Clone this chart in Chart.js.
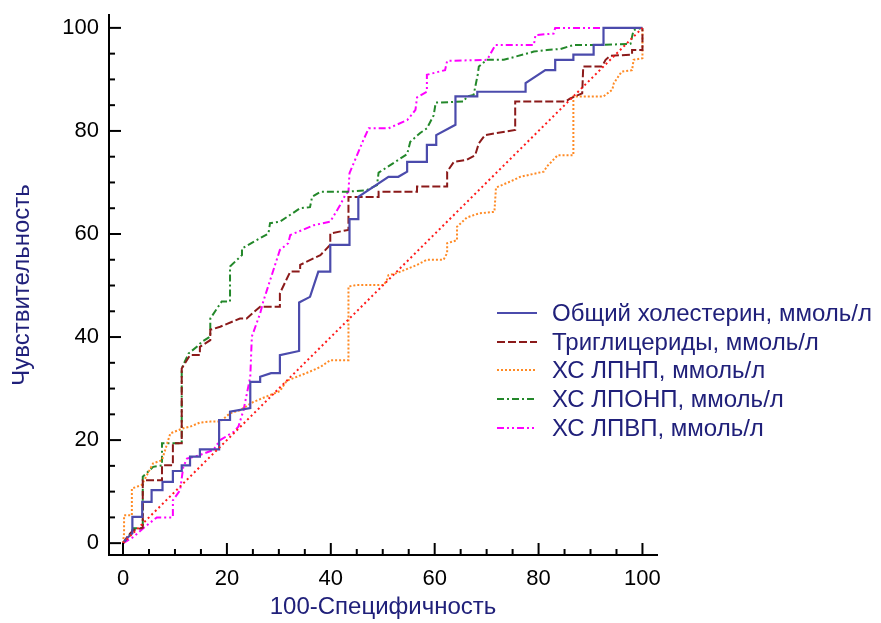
<!DOCTYPE html>
<html lang="ru">
<head>
<meta charset="utf-8">
<title>ROC</title>
<script src="https://cdn.jsdelivr.net/npm/chart.js@4.4.1/dist/chart.umd.min.js"></script>
<style>
  body { margin: 0; background: #fff; }
  #wrap { position: relative; width: 881px; height: 623px; }
  #legend {
    position: absolute; left: 497px; top: 299px;
    font-family: Arial, "Liberation Sans", sans-serif; font-size: 24px; color: #20207a;
  }
  .row { display: flex; align-items: center; height: 28.6px; white-space: nowrap; }
  .row svg { margin-right: 15px; flex: none; }
</style>
</head>
<body>
<div id="wrap">
  <canvas id="roc" width="881" height="623"></canvas>
  <div id="legend"></div>
</div>
<script>
// Подписи
const xTitle = '100-Специфичность';
const yTitle = 'Чувствительность';
const tickValues = [0, 20, 40, 60, 80, 100];
const seriesNames = [
  'Общий холестерин, ммоль/л',
  'Триглицериды, ммоль/л',
  'ХС ЛПНП, ммоль/л',
  'ХС ЛПОНП, ммоль/л',
  'ХС ЛПВП, ммоль/л'
];

// Точки ROC-кривых [100-специфичность, чувствительность]
const cholesterol = [[0,0],[0.8,1],[1.8,1.9],[1.8,5.1],[3.7,5.1],[3.7,8],[5.5,8],[5.5,10.3],[7.6,10.3],[7.6,11.9],
  [9.6,11.9],[9.6,14],[11.3,14],[11.3,15.1],[12.9,15.1],[12.9,16.8],[14.8,16.8],[14.8,18.2],[18.5,18.2],[18.5,23.9],
  [20.6,23.9],[20.6,25.5],[24.5,26.2],[24.5,31.3],[26.4,31.3],[26.4,32.3],[28.5,33],[30.2,33],[30.2,36.5],[33.9,37.3],
  [33.9,46.7],[36,47.8],[37.6,52.7],[39.9,52.7],[39.9,57.9],[43.6,57.9],[43.6,62.9],[45.3,62.9],[45.3,67.2],[51.1,71.1],
  [53,71.1],[54.7,72.1],[54.7,74],[58.5,74],[58.5,77.3],[60.3,77.3],[60.3,79.2],[64,81.2],[64,86.7],[68.2,86.7],
  [68.2,87.6],[77.5,87.6],[77.5,89.3],[81.3,91.8],[83.2,91.8],[83.2,93.8],[86.7,93.8],[86.7,94.8],[90.6,94.8],[90.6,96.7],
  [92.5,96.7],[92.5,100],[100,100]];
const triglycerides = [[0,0],[1,1.5],[2,2.5],[3.8,3],[3.8,12.2],[7.5,12.2],[7.5,15.1],[9.6,15.1],[9.6,19.4],[11.3,19.4],
  [11.3,33.9],[12.9,36.5],[14.8,36.5],[14.8,38.1],[16.8,39.4],[16.8,41.4],[18.7,42],[22.5,43.6],[23.8,43.6],[26.4,45.9],
  [30.2,45.9],[30.2,48.5],[32.2,52.7],[34.1,52.7],[34.1,54],[38,55.9],[39.9,57.9],[39.9,60.1],[43.4,60.8],[43.4,67.2],
  [49.2,67.2],[49.2,68.2],[56.6,68.2],[56.6,69.2],[62.4,69.2],[62.4,72.1],[63.7,74],[66.2,74.4],[67.8,75.3],[68.5,77.6],
  [69.7,79.2],[75.5,80.2],[75.5,85.7],[85.2,85.7],[86.1,86.3],[88.4,87.3],[88.6,92.5],[92.2,92.5],[92.9,93.8],[93.8,94.6],
  [98,94.8],[98,95.7],[100,95.7],[100,100]];
const ldl = [[0,0],[0.2,1.9],[0.2,5.4],[1.7,5.4],[1.7,10.6],[3.6,11.3],[5.8,15.5],[7.5,16.1],[9.1,21.3],[11.6,22.3],
  [12.9,22.6],[14.8,23.4],[16.8,23.6],[18.7,23.6],[20.6,25.2],[22.5,25.8],[25.1,27.4],[27.7,28.5],[30.2,29.5],[31.5,31.5],
  [33.5,32.3],[36,33.3],[38,34.2],[39.9,35.5],[43.4,35.5],[43.4,49.8],[45,50.1],[50.2,50.1],[50.8,51.1],[51.1,52],
  [52.7,52.4],[56.6,54],[58.5,55],[61.7,55],[62.4,56.3],[62.4,58.2],[64.3,58.8],[64.3,61.4],[66.2,63.2],[68.5,64],
  [71.5,64.3],[71.8,69],[74.6,70.2],[76.5,71.1],[81,72.1],[81.6,73.1],[83.7,75.3],[86.7,75.3],[86.7,86.7],[92.5,86.7],
  [94.2,88],[94.5,89.3],[96,91.5],[98,91.8],[98.3,93.8],[100,94.1],[100,100]];
const vldl = [[0,0],[1,1.2],[2,2.9],[3.8,2.9],[3.8,12.9],[5.8,14.8],[7.5,15.1],[7.5,19.4],[11.3,19.4],[11.3,33.9],
  [12.6,36.8],[14.2,38.1],[15.2,39.1],[16.8,40.1],[16.8,43.6],[19,46.9],[20.6,46.9],[20.6,53.7],[22.9,55.9],[22.9,57.2],
  [28,60.1],[28.3,62.1],[30.2,62.4],[34.1,65],[36,65.2],[36.4,67.2],[38,68.2],[43.1,68.2],[46.9,68.5],[48.9,69.5],
  [49.2,71.9],[54.7,75.5],[55.3,77.9],[57.2,79.6],[58.5,80.5],[59.8,83],[60.2,85.5],[65.6,85.7],[66.2,86.7],[67.5,87],
  [68.3,91],[68.5,92.5],[70,93.8],[73.3,93.8],[79.1,95.4],[81.6,95.7],[84.2,95.9],[86.8,96.7],[91.9,96.7],[97.7,96.9],
  [98,98.3],[98.3,99.6],[100,100]];
const hdl = [[0,0],[2,1.2],[3.9,2.9],[6.5,5],[9.6,5],[9.6,8.3],[11,10.3],[11.6,14.8],[12.3,16.4],[14.8,17.1],
  [17.4,18.1],[18.7,20],[21.3,21.6],[22.2,22.6],[23.2,25.8],[24.5,32.3],[24.8,40.1],[26.4,44.6],[27,46.9],[30.2,56.9],
  [31.8,58.2],[32.2,59.8],[36.7,61.7],[39.9,62.4],[41.8,65.6],[42.8,67.6],[43.4,68.2],[43.6,71.8],[46.3,78.3],[47.3,80.5],
  [51.1,80.5],[54.7,82.1],[55.3,82.8],[56.3,84.1],[56.6,86.5],[58.5,87.6],[58.5,90.9],[62,91.8],[62.4,93.6],[70.1,93.8],
  [71.7,96.7],[79.1,96.7],[79.4,98.6],[82.9,98.9],[83.2,100],[100,100]];
const diagonal = [[0,0],[100,100]];

// Стили линий
const colors = ['#4b4bac', '#8b1a1a', '#ff8a24', '#23882a', '#ff00ff'];
const dashes = [[], [8, 3], [2, 2], [7, 3, 2, 3], [7, 3, 2, 3, 2, 3]];
const curves = [cholesterol, triglycerides, ldl, vldl, hdl];

function toPoints(arr) {
  return arr.map(p => ({ x: p[0], y: p[1] }));
}

const datasets = [{
  label: 'diag',
  data: toPoints(diagonal),
  borderColor: '#ff1a1a',
  borderWidth: 2,
  borderDash: [2, 3],
  showLine: true,
  pointRadius: 0
}];
curves.forEach((c, i) => {
  datasets.push({
    label: seriesNames[i],
    data: toPoints(c),
    borderColor: colors[i],
    borderWidth: i === 0 ? 2.2 : 2,
    borderDash: dashes[i],
    showLine: true,
    pointRadius: 0
  });
});

// Засечки внутрь области графика
const tickMarks = {
  id: 'tickMarks',
  afterDraw(chart) {
    const { ctx, chartArea, scales: { x, y } } = chart;
    ctx.save();
    ctx.strokeStyle = '#000';
    ctx.lineWidth = 2;
    for (let v = 0; v <= 100; v += 5) {
      const len = v % 20 === 0 ? 12 : 6;
      const px = x.getPixelForValue(v);
      ctx.beginPath();
      ctx.moveTo(px, chartArea.bottom);
      ctx.lineTo(px, chartArea.bottom - len);
      ctx.stroke();
      const py = y.getPixelForValue(v);
      ctx.beginPath();
      ctx.moveTo(chartArea.left, py);
      ctx.lineTo(chartArea.left + len, py);
      ctx.stroke();
    }
    ctx.restore();
  }
};

const fontFamily = 'Arial, "Liberation Sans", sans-serif';
const axisCommon = {
  type: 'linear',
  grid: { display: true, drawOnChartArea: false, drawTicks: false },
  border: { display: true, color: '#000', width: 2 },
  afterBuildTicks: s => { s.ticks = tickValues.map(v => ({ value: v })); }
};

new Chart(document.getElementById('roc').getContext('2d'), {
  type: 'scatter',
  data: { datasets: datasets },
  options: {
    responsive: false,
    animation: false,
    devicePixelRatio: 1,
    layout: { padding: { left: 0, right: 224, top: 15, bottom: 0 } },
    plugins: { legend: { display: false }, tooltip: { enabled: false } },
    elements: { line: { tension: 0 } },
    scales: {
      x: Object.assign({}, axisCommon, {
        min: -2.7, max: 102.8,
        afterFit: s => { s.height = 68; s.paddingLeft = 0; s.paddingRight = 0; },
        ticks: { color: '#000', padding: 11, font: { family: fontFamily, size: 22 } },
        title: { display: true, text: xTitle, color: '#20207a', padding: { top: 0, bottom: 1 },
                 font: { family: fontFamily, size: 24 } }
      }),
      y: Object.assign({}, axisCommon, {
        min: -2.3, max: 102.5,
        afterFit: s => { s.width = 109; s.paddingTop = 0; s.paddingBottom = 0; },
        ticks: { color: '#000', padding: 10, font: { family: fontFamily, size: 22 } },
        title: { display: true, text: yTitle, color: '#20207a', padding: { top: 8, bottom: 0 },
                 font: { family: fontFamily, size: 24 } }
      })
    }
  },
  plugins: [tickMarks]
});

// Легенда
const legend = document.getElementById('legend');
seriesNames.forEach((name, i) => {
  const row = document.createElement('div');
  row.className = 'row';
  const dash = dashes[i].length ? dashes[i].join(' ') : 'none';
  row.innerHTML = '<svg width="40" height="10"><line x1="0" y1="5" x2="40" y2="5" stroke="' + colors[i] +
    '" stroke-width="2" stroke-dasharray="' + dash + '"/></svg><span>' + name + '</span>';
  legend.appendChild(row);
});
</script>
</body>
</html>
